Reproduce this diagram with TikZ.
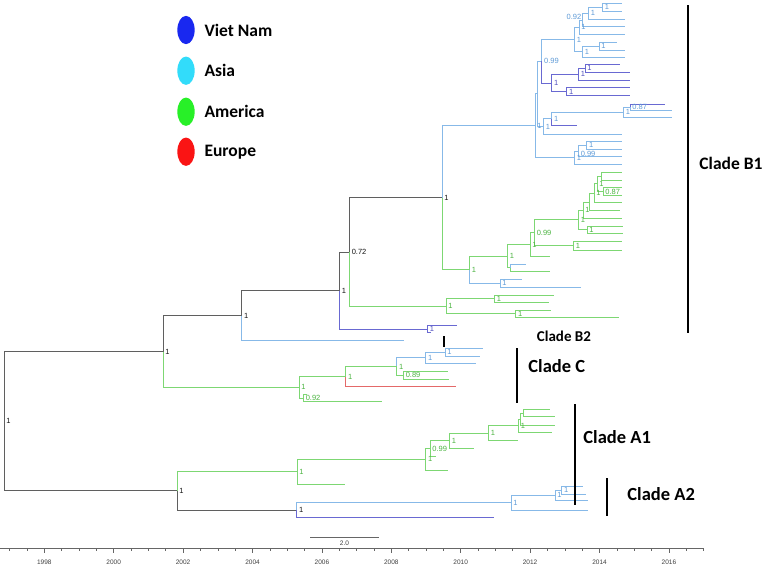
\documentclass[tikz,border=0pt]{standalone}
\usepackage{fontspec}
\setmainfont{Liberation Sans}
\newfontfamily\cladefont{Carlito}
\usepackage{tikz}
\usetikzlibrary{positioning, shapes.geometric}

\definecolor{grB}{RGB}{95,95,95}
\definecolor{asB}{RGB}{135,185,232}
\definecolor{vnB}{RGB}{105,105,210}
\definecolor{amB}{RGB}{125,215,115}
\definecolor{euB}{RGB}{228,105,105}
\definecolor{grT}{RGB}{20,20,20}
\definecolor{asT}{RGB}{95,155,215}
\definecolor{vnT}{RGB}{80,80,190}
\definecolor{amT}{RGB}{75,180,65}
\definecolor{vnL}{RGB}{25,40,240}
\definecolor{asL}{RGB}{50,220,250}
\definecolor{amL}{RGB}{40,240,40}
\definecolor{euL}{RGB}{250,20,20}

\begin{document}
\begin{tikzpicture}[x=1pt, y=-1pt, line width=0.9pt,
     every node/.style = {anchor=west, inner sep=0pt},
     lab/.style = {font=\fontsize{7.5}{8}\selectfont, xshift=2pt},
     brG/.style = {draw=grB}, brA/.style = {draw=asB}, brV/.style = {draw=vnB},
     brM/.style = {draw=amB}, brE/.style = {draw=euB},
     bar/.style = {line width=2.2pt},
     clade/.style = {font=\cladefont\bfseries\fontsize{18.5}{20}\selectfont},
     legtxt/.style = {font=\cladefont\bfseries\fontsize{17.5}{20}\selectfont},
     dot/.style = {ellipse, minimum width=17.3pt, minimum height=28.3pt, anchor=center},
     axis/.style = {draw=black!60, line width=0.8pt},
     yrlab/.style = {anchor=center, font=\fontsize{6.5}{7}\selectfont, text=black!75}]
     \path[fill=white] (0,0) rectangle (765,566);
     \useasboundingbox (0,0) rectangle (765,566);

     % backbone
     \coordinate (R) at (4,421.1);     \coordinate (A) at (163,351.5);
     \coordinate (Aa) at (177,490.8);  \coordinate (B) at (241.7,315.7);
     \coordinate (D) at (339.3,290.7); \coordinate (K) at (349.3,252.1);
     \coordinate (M) at (442,197.8);   \coordinate (tB) at (404,340.7);
     % clade B2
     \coordinate (L) at (427.3,329.2); \coordinate (La) at (457.3,325.7); \coordinate (Lb) at (431,332.7);
     % clade B1, Asia and Viet Nam
     \coordinate (P) at (535,125.8);   \coordinate (W) at (537.3,93.9);
     \coordinate (Q) at (541.7,61.2);  \coordinate (Q1) at (574.3,39.45);
     \coordinate (S4) at (579,27.15);  \coordinate (S3) at (582.7,20);
     \coordinate (S2) at (588.3,13.3); \coordinate (S1) at (602.3,7.2);
     \coordinate (t1) at (621.7,3.3);  \coordinate (t2) at (621.7,11);
     \coordinate (t3) at (625,19.3);   \coordinate (t4) at (625,26.7);
     \coordinate (t5) at (625,34.3);
     \coordinate (S5) at (582.3,51.7); \coordinate (S6) at (599,46.2);
     \coordinate (t6) at (616.7,42.3); \coordinate (t7) at (625,50);
     \coordinate (t8) at (625,57.3);
     \coordinate (R3) at (551.7,83);   \coordinate (R2) at (578.3,74.2);
     \coordinate (R1) at (585,68.3);   \coordinate (R4) at (566.7,91.7);
     \coordinate (t9) at (620,64.3);   \coordinate (t10) at (630,72.3);
     \coordinate (t11) at (630,80);    \coordinate (t12) at (630,87.7);
     \coordinate (t13) at (630,95.7);
     \coordinate (V) at (543.3,126.6); \coordinate (U) at (551.7,118.9);
     \coordinate (X1) at (623.3,112.2); \coordinate (X2) at (630,107);
     \coordinate (t14) at (665,104);   \coordinate (t15) at (672,110);
     \coordinate (t16) at (672,117.5); \coordinate (t17) at (577,125.5);
     \coordinate (t18) at (621.7,134.3);
     \coordinate (T1) at (574.3,157.65); \coordinate (T2) at (578.3,151);
     \coordinate (T3) at (586.7,145.3);
     \coordinate (t19) at (622,141.7); \coordinate (t20) at (622,149);
     \coordinate (t21) at (622,156.7); \coordinate (t22) at (622,164.3);
     % clade B1, America
     \coordinate (G1) at (469.3,269.7); \coordinate (B7) at (500,283.3);
     \coordinate (b7a) at (522,279.3);  \coordinate (b7b) at (580.7,287.3);
     \coordinate (G2) at (507.3,256.15); \coordinate (G2b) at (510,267.5);
     \coordinate (g2ba) at (526,264);   \coordinate (g2bb) at (550,271);
     \coordinate (G3) at (530,244.8);   \coordinate (G3b) at (550,256.7);
     \coordinate (G4) at (534.3,232.9); \coordinate (G6) at (573.3,245.85);
     \coordinate (G6a) at (622,241.7);  \coordinate (G6b) at (622,250);
     \coordinate (G5) at (578.3,219.9); \coordinate (G8) at (587,229.65);
     \coordinate (G8a) at (623,226);    \coordinate (G8b) at (623,233.3);
     \coordinate (G7) at (583,210.15);  \coordinate (G7b) at (622,218.3);
     \coordinate (g5) at (589,202);     \coordinate (g5b) at (620,210.7);
     \coordinate (g4) at (594,193.3);   \coordinate (g4b) at (622,202.7);
     \coordinate (g2) at (597,183.9);   \coordinate (g1) at (601,176.15);
     \coordinate (g1a) at (622,172.3);  \coordinate (g1b) at (622,180);
     \coordinate (g3) at (603,191.5);   \coordinate (g3a) at (622,187.7);
     \coordinate (g3b) at (622,195.3);
     \coordinate (N) at (446,306.3);    \coordinate (N1) at (494.3,298.85);
     \coordinate (N1a) at (554,295);    \coordinate (N1b) at (549.3,302.7);
     \coordinate (N2) at (515.7,313.85); \coordinate (N2a) at (550.7,310);
     \coordinate (N2b) at (619.3,317.7);
     % clade C
     \coordinate (C) at (299,387.3);    \coordinate (E) at (345.7,376.6);
     \coordinate (Eb) at (456,386.7);   \coordinate (G) at (396.7,366.45);
     \coordinate (H) at (425.7,357.75); \coordinate (I) at (445,352.15);
     \coordinate (Ia) at (483.3,348.3); \coordinate (Ib) at (480,356);
     \coordinate (Hb) at (476,363.3);   \coordinate (J) at (403.3,375.15);
     \coordinate (Ja) at (448.3,371);   \coordinate (Jb) at (449,379.3);
     \coordinate (F) at (303.3,398);    \coordinate (Fa) at (307,394.3);
     \coordinate (Fb) at (381.7,401.7);
     % clade A1
     \coordinate (Ya) at (297,471.7);   \coordinate (Yab) at (345,484.1);
     \coordinate (Yc) at (425.7,459.3); \coordinate (Ycb) at (448.3,470);
     \coordinate (Y0) at (430,448.65);  \coordinate (Y0b) at (436,456.7);
     \coordinate (Y1) at (449.3,440.65); \coordinate (Y1b) at (474.3,448.3);
     \coordinate (Y2) at (488.3,432.95); \coordinate (Y2b) at (517.7,440);
     \coordinate (Y3) at (518.3,425.85); \coordinate (Y3b) at (551.7,432.7);
     \coordinate (Y4) at (520,419);     \coordinate (Y4b) at (555,425);
     \coordinate (Y5) at (523.3,413);   \coordinate (Y5a) at (550,409.3);
     \coordinate (Y5b) at (555,416.7);
     % clade A2
     \coordinate (Z) at (296.6,509.95); \coordinate (Zz) at (494,517.3);
     \coordinate (Zb) at (511,502.6);   \coordinate (Zbb) at (588.3,510);
     \coordinate (Zc) at (555,495.2);   \coordinate (Zcb) at (588.3,500);
     \coordinate (Zd) at (561.7,490.35); \coordinate (Zda) at (583.3,486.7);
     \coordinate (Zdb) at (586,494);

     % branches
     \foreach \pa/\ch in {R/A, R/Aa, A/B, B/D, D/K, K/M, Aa/Z}
        \draw[brG] (\pa) |- (\ch);
     \foreach \pa/\ch in {B/tB, M/P, P/W, P/T1, W/Q, W/V, Q/Q1, Q1/S4, Q1/S5,
        S4/S3, S4/t5, S3/S2, S3/t4, S2/S1, S2/t3, S1/t1, S1/t2, S5/S6, S5/t8,
        S6/t6, S6/t7, V/U, V/t18, U/X1, X1/X2, X1/t16, X2/t15, T1/T2, T1/t22,
        T2/T3, T2/t21, T3/t19, T3/t20, G1/B7, B7/b7a, B7/b7b, G2b/g2ba, G/H,
        H/I, H/Hb, I/Ia, I/Ib, Z/Zb, Zb/Zc, Zb/Zbb, Zc/Zd, Zc/Zcb, Zd/Zda, Zd/Zdb}
        \draw[brA] (\pa) |- (\ch);
     \foreach \pa/\ch in {D/L, L/La, L/Lb, Q/R3, R3/R2, R3/R4, R2/R1, R2/t11,
        R1/t9, R1/t10, R4/t12, R4/t13, U/t17, X2/t14, Z/Zz}
        \draw[brV] (\pa) |- (\ch);
     \foreach \pa/\ch in {A/C, K/N, N/N1, N/N2, N1/N1a, N1/N1b, N2/N2a, N2/N2b,
        M/G1, G1/G2, G2/G3, G2/G2b, G2b/g2bb, G3/G4, G3/G3b, G4/G5, G4/G6,
        G6/G6a, G6/G6b, G5/G7, G5/G8, G8/G8a, G8/G8b, G7/g5, G7/G7b, g5/g4,
        g5/g5b, g4/g2, g4/g4b, g2/g1, g2/g3, g1/g1a, g1/g1b, g3/g3a, g3/g3b,
        C/E, C/F, F/Fa, F/Fb, E/G, G/J, J/Ja, J/Jb, Aa/Ya, Ya/Yc, Ya/Yab,
        Yc/Y0, Yc/Ycb, Y0/Y1, Y0/Y0b, Y1/Y2, Y1/Y1b, Y2/Y3, Y2/Y2b, Y3/Y4,
        Y3/Y3b, Y4/Y5, Y4/Y4b, Y5/Y5a, Y5/Y5b}
        \draw[brM] (\pa) |- (\ch);
     \draw[brE] (E) |- (Eb);

     % posterior labels
     \foreach \n/\t in {R/1, A/1, Aa/1, B/1, D/1, K/0.72, M/1, Z/1}
        \node[lab, text=grT] (l\n) at (\n) {\t};
     \foreach \n/\t in {S1/1, S2/1, S4/1, Q1/1, S6/1, S5/1, Q/0.99, X2/0.87, X1/1,
        U/1, V/1, P/1, T3/1, T1/1, B7/1, H/1, I/1, Zb/1, Zc/1, Zd/1}
        \node[lab, text=asT] (l\n) at (\n) {\t};
     \node[lab, text=asT, yshift=-2.5pt] (lT2) at (T2) {0.99};
     \node[lab, text=asT, anchor=east, xshift=-3pt, yshift=3pt] (lS3) at (S3) {0.92};
     \foreach \n/\t in {R1/1, R2/1, R3/1, R4/1, L/1}
        \node[lab, text=vnT] (l\n) at (\n) {\t};
     \foreach \n/\t in {g2/1, g3/0.87, g4/1, G7/1, G5/1, G8/1, G4/0.99, G3/1, G6/1,
        G2/1, G1/1, N/1, N1/1, N2/1, C/1, E/1, G/1, J/0.89, F/0.92, Ya/1, Yc/1,
        Y0/0.99, Y1/1, Y2/1, Y3/1}
        \node[lab, text=amT] (l\n) at (\n) {\t};

     % legend
     \node[dot, fill=vnL] (eVN) at (186,30) {};
     \node[dot, fill=asL] (eAS) at (186,70.7) {};
     \node[dot, fill=amL] (eAM) at (186,111.7) {};
     \node[dot, fill=euL] (eEU) at (186,151.7) {};
     \node[legtxt, right=9pt of eVN] (tVN) {Viet Nam};
     \node[legtxt, right=9pt of eAS] (tAS) {Asia};
     \node[legtxt, right=9pt of eAM] (tAM) {America};
     \node[legtxt, right=9pt of eEU] (tEU) {Europe};

     % clade bars
     \coordinate (b1t) at (688,5);   \coordinate (b1b) at (688,333);
     \coordinate (b2t) at (444,336); \coordinate (b2b) at (444,347);
     \coordinate (bct) at (517,348); \coordinate (bcb) at (517,403);
     \coordinate (a1t) at (575,404); \coordinate (a1b) at (575,505);
     \coordinate (a2t) at (607,478); \coordinate (a2b) at (607,516);
     \draw[bar] (b1t) -- (b1b);
     \draw[bar] (b2t) -- (b2b);
     \draw[bar] (bct) -- (bcb);
     \draw[bar] (a1t) -- (a1b);
     \draw[bar] (a2t) -- (a2b);
     \node[clade, font=\cladefont\bfseries\fontsize{17.5}{20}\selectfont] (cB1) at (699,163) {Clade B1};
     \node[clade, font=\cladefont\bfseries\fontsize{15}{17}\selectfont] (cB2) at (536.5,336) {Clade B2};
     \node[clade] (cC) at (528,366) {Clade C};
     \node[clade] (cA1) at (583,437) {Clade A1};
     \node[clade] (cA2) at (627,494) {Clade A2};

     % scale bar and time axis
     \coordinate (sb1) at (310,537); \coordinate (sb2) at (379,537);
     \draw[axis] (sb1) -- node[yrlab, yshift=-6.5pt] (sbl) {2.0} (sb2);
     \coordinate (ax1) at (0,548); \coordinate (ax2) at (703,548);
     \draw[axis] (ax1) -- (ax2);
     \foreach \t in {0,...,40}
        \draw[axis, line width=0.6pt] ({9.6+\t*17.35},548) -- ++(0,2.5);
     \foreach \yr in {1998,2000,...,2016} {
        \draw[axis, line width=0.6pt] ({113.7+(\yr-2000)*34.7},548) -- ++(0,4.5);
        \node[yrlab] (y\yr) at ({113.7+(\yr-2000)*34.7},562) {\yr};
     }
\end{tikzpicture}
\end{document}
